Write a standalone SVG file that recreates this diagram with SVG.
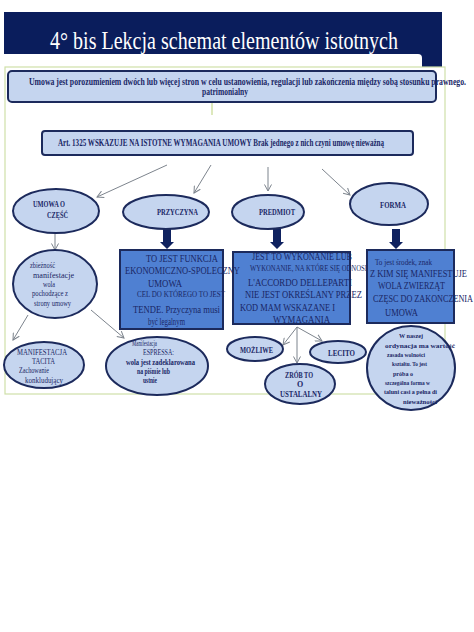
<svg xmlns="http://www.w3.org/2000/svg" width="474" height="632" viewBox="0 0 474 632">
<style>
text{font-family:"Liberation Serif","Times New Roman",serif;fill:#1a2766;}
.b{font-weight:bold;}
.ell{fill:#c5d5ef;stroke:#1c2a5c;stroke-width:2;}
.box{fill:#4f80d2;stroke:#1c2a5c;stroke-width:2;}
.lbox{fill:#c5d5ef;stroke:#1c2a5c;stroke-width:2;}
.thin{stroke:#7d848d;stroke-width:1;fill:none;marker-end:url(#ah);}
.blk{fill:#0f2260;}
</style>
<defs>
<marker id="ah" markerWidth="8" markerHeight="8" refX="7" refY="4" orient="auto" markerUnits="userSpaceOnUse">
<path d="M0.5,0.5 L7,4 L0.5,7.5" fill="none" stroke="#7d848d" stroke-width="1"/>
</marker>
<path id="blockArrow" d="M-4,0 H4 V13 H7 L0,20 L-7,13 H-4 Z"/>
</defs>
<rect width="474" height="632" fill="#ffffff"/>
<g id="title">
<rect x="4" y="12" width="438" height="55" fill="#0a1d5c"/>
<path d="M0,54 H418 Q422,54 422,58 V67 H0 Z" fill="#ffffff"/>
<text x="50" y="49" font-size="26" textLength="348" lengthAdjust="spacingAndGlyphs" style="fill:#ffffff">4° bis Lekcja schemat elementów istotnych</text>
</g>
<rect id="frame" x="5" y="67" width="440" height="327" fill="none" stroke="#cfe0a8" stroke-width="1.2"/>
<g id="connectors">
<line x1="212" y1="102" x2="212" y2="115" stroke="#c6d98f" stroke-width="1.2"/>
<line class="thin" x1="167" y1="165" x2="97" y2="197"/>
<line class="thin" x1="211" y1="165" x2="194" y2="193"/>
<line class="thin" x1="268" y1="167" x2="268" y2="191"/>
<line class="thin" x1="322" y1="169" x2="350" y2="195"/>
<line class="thin" x1="55" y1="233" x2="55" y2="250"/>
<line class="thin" x1="28" y1="315" x2="13" y2="340"/>
<line class="thin" x1="91" y1="310" x2="124" y2="338"/>
<line class="thin" x1="297" y1="327" x2="283" y2="345"/>
<line class="thin" x1="297" y1="327" x2="297" y2="363"/>
<line class="thin" x1="297" y1="327" x2="322" y2="341"/>
<use href="#blockArrow" class="blk" x="167" y="229"/>
<use href="#blockArrow" class="blk" x="277" y="229"/>
<use href="#blockArrow" class="blk" x="396" y="229"/>
</g>
<g id="n-umowa-def">
<rect class="lbox" x="8" y="71" width="428" height="31" rx="4"/>
<text class="b" x="29" y="85" font-size="9.5" textLength="437" lengthAdjust="spacingAndGlyphs">Umowa jest porozumieniem dwóch lub więcej stron w celu ustanowienia, regulacji lub zakończenia między sobą stosunku prawnego.</text>
<text class="b" x="202" y="95" font-size="9.5" textLength="46" lengthAdjust="spacingAndGlyphs">patrimonialny</text>
</g>
<g id="n-art">
<rect class="lbox" x="42" y="131" width="371" height="24" rx="3"/>
<text class="b" x="58" y="146" font-size="9.5" textLength="326" lengthAdjust="spacingAndGlyphs">Art. 1325 WSKAZUJE NA ISTOTNE WYMAGANIA UMOWY Brak jednego z nich czyni umowę nieważną</text>
</g>
<g id="n-umowa-o">
<ellipse class="ell" cx="56" cy="211" rx="43" ry="22"/>
<text class="b" x="33" y="207" font-size="7.5" textLength="32" lengthAdjust="spacingAndGlyphs">UMOWA O</text>
<text class="b" x="47" y="218" font-size="7.5" textLength="21" lengthAdjust="spacingAndGlyphs">CZĘŚĆ</text>
</g>
<g id="n-przyczyna">
<ellipse class="ell" cx="166" cy="212" rx="43" ry="17"/>
<text class="b" x="157" y="215" font-size="7.5" textLength="41" lengthAdjust="spacingAndGlyphs">PRZYCZYNA</text>
</g>
<g id="n-predmiot">
<ellipse class="ell" cx="268" cy="212" rx="36" ry="17"/>
<text class="b" x="259" y="215" font-size="7.5" textLength="36" lengthAdjust="spacingAndGlyphs">PREDMIOT</text>
</g>
<g id="n-forma">
<ellipse class="ell" cx="389" cy="204" rx="39" ry="21"/>
<text class="b" x="380" y="208" font-size="7.5" textLength="26" lengthAdjust="spacingAndGlyphs">FORMA</text>
</g>
<g id="n-zbieznosc">
<ellipse class="ell" cx="55" cy="284" rx="42" ry="34"/>
<text x="30" y="268" font-size="8" textLength="25" lengthAdjust="spacingAndGlyphs">zbieżność</text>
<text x="33" y="278" font-size="8" textLength="41" lengthAdjust="spacingAndGlyphs">manifestacje</text>
<text x="43" y="287" font-size="8" textLength="12" lengthAdjust="spacingAndGlyphs">wola</text>
<text x="32" y="296" font-size="8" textLength="36" lengthAdjust="spacingAndGlyphs">pochodzące z</text>
<text x="34" y="306" font-size="8" textLength="37" lengthAdjust="spacingAndGlyphs">strony umowy</text>
</g>
<g id="n-tacita">
<ellipse class="ell" cx="44" cy="365" rx="40" ry="23"/>
<text x="17" y="355" font-size="9" textLength="50" lengthAdjust="spacingAndGlyphs">MANIFESTACJA</text>
<text x="32" y="364" font-size="9" textLength="23" lengthAdjust="spacingAndGlyphs">TACITA</text>
<text x="19" y="373" font-size="8.5" textLength="30" lengthAdjust="spacingAndGlyphs">Zachowanie</text>
<text x="25" y="383" font-size="8.5" textLength="38" lengthAdjust="spacingAndGlyphs">konkludujący</text>
</g>
<g id="n-espressa">
<ellipse class="ell" cx="157" cy="366" rx="51" ry="29"/>
<text x="132" y="346" font-size="8" textLength="25" lengthAdjust="spacingAndGlyphs">Manifestacja</text>
<text x="143" y="355" font-size="8.5" textLength="31" lengthAdjust="spacingAndGlyphs">ESPRESSA:</text>
<text class="b" x="126" y="365" font-size="7.5" textLength="69" lengthAdjust="spacingAndGlyphs">wola jest zadeklarowana</text>
<text class="b" x="137" y="374" font-size="7.5" textLength="33" lengthAdjust="spacingAndGlyphs">na piśmie lub</text>
<text class="b" x="143" y="383" font-size="7.5" textLength="14" lengthAdjust="spacingAndGlyphs">ustnie</text>
</g>
<g id="n-forma-box">
<rect class="box" x="367" y="250" width="87" height="73"/>
<text x="375" y="265" font-size="9" textLength="57" lengthAdjust="spacingAndGlyphs">To jest środek, znak</text>
<text x="370" y="277" font-size="11" textLength="97" lengthAdjust="spacingAndGlyphs">Z KIM SIĘ MANIFESTUJE</text>
<text x="378" y="289" font-size="11" textLength="67" lengthAdjust="spacingAndGlyphs">WOLA ZWIERZĄT</text>
<text x="373" y="302" font-size="11" textLength="100" lengthAdjust="spacingAndGlyphs">CZĘSC DO ZAKONCZENIA</text>
<text x="385" y="316" font-size="11" textLength="33" lengthAdjust="spacingAndGlyphs">UMOWA</text>
</g>
<g id="n-predmiot-box">
<rect class="box" x="233" y="252" width="117" height="72"/>
<text x="252" y="260" font-size="11" textLength="100" lengthAdjust="spacingAndGlyphs">JEST TO WYKONANIE LUB</text>
<text x="250" y="271" font-size="8.5" textLength="117" lengthAdjust="spacingAndGlyphs">WYKONANIE, NA KTÓRE SIĘ ODNOSI</text>
<text x="248" y="286" font-size="11" textLength="104" lengthAdjust="spacingAndGlyphs">L'ACCORDO DELLEPARTI</text>
<text x="245" y="298" font-size="11" textLength="117" lengthAdjust="spacingAndGlyphs">NIE JEST OKREŚLANY PRZEZ</text>
<text x="240" y="311" font-size="11" textLength="95" lengthAdjust="spacingAndGlyphs">KOD MAM WSKAZANE I</text>
<text x="273" y="323" font-size="11" textLength="57" lengthAdjust="spacingAndGlyphs">WYMAGANIA</text>
</g>
<g id="n-przyczyna-box">
<rect class="box" x="120" y="250" width="103" height="79"/>
<text x="146" y="262" font-size="11" textLength="72" lengthAdjust="spacingAndGlyphs">TO JEST FUNKCJA</text>
<text x="125" y="274" font-size="11" textLength="115" lengthAdjust="spacingAndGlyphs">EKONOMICZNO-SPOLECZNY</text>
<text x="148" y="287" font-size="11" textLength="34" lengthAdjust="spacingAndGlyphs">UMOWA</text>
<text x="137" y="297" font-size="8.5" textLength="88" lengthAdjust="spacingAndGlyphs">CEL DO KTÓREGO TO JEST</text>
<text x="133" y="313" font-size="11" textLength="87" lengthAdjust="spacingAndGlyphs">TENDE. Przyczyna musi</text>
<text x="148" y="325" font-size="11" textLength="37" lengthAdjust="spacingAndGlyphs">być legalnym</text>
</g>
<g id="n-mozliwe">
<ellipse class="ell" cx="255" cy="349" rx="28" ry="12"/>
<text class="b" x="240" y="353" font-size="8" textLength="33" lengthAdjust="spacingAndGlyphs">MOŻLIWE</text>
</g>
<g id="n-lecito">
<ellipse class="ell" cx="338" cy="352" rx="28" ry="11"/>
<text class="b" x="328" y="356" font-size="8" textLength="27" lengthAdjust="spacingAndGlyphs">LECITO</text>
</g>
<g id="n-zrob">
<ellipse class="ell" cx="300" cy="384" rx="35" ry="20"/>
<text class="b" x="285" y="378" font-size="8" textLength="28" lengthAdjust="spacingAndGlyphs">ZRÓB TO</text>
<text class="b" x="300" y="387" font-size="8" text-anchor="middle">O</text>
<text class="b" x="280" y="397" font-size="8" textLength="42" lengthAdjust="spacingAndGlyphs">USTALALNY</text>
</g>
<g id="n-naszej">
<ellipse class="ell" cx="411" cy="368" rx="44" ry="42"/>
<text class="b" x="399" y="338" font-size="7" textLength="24" lengthAdjust="spacingAndGlyphs">W naszej</text>
<text class="b" x="385" y="348" font-size="7" textLength="70" lengthAdjust="spacingAndGlyphs">ordynacja ma wartość</text>
<text class="b" x="387" y="357" font-size="7" textLength="38" lengthAdjust="spacingAndGlyphs">zasada wolności</text>
<text class="b" x="392" y="366" font-size="7" textLength="35" lengthAdjust="spacingAndGlyphs">kształtu. To jest</text>
<text class="b" x="393" y="376" font-size="7" textLength="20" lengthAdjust="spacingAndGlyphs">próba o</text>
<text class="b" x="385" y="385" font-size="7" textLength="45" lengthAdjust="spacingAndGlyphs">szczególna forma w</text>
<text class="b" x="384" y="394" font-size="7" textLength="53" lengthAdjust="spacingAndGlyphs">taluni casi a pełna di</text>
<text class="b" x="403" y="404" font-size="7" textLength="34" lengthAdjust="spacingAndGlyphs">nieważności</text>
</g>
</svg>
